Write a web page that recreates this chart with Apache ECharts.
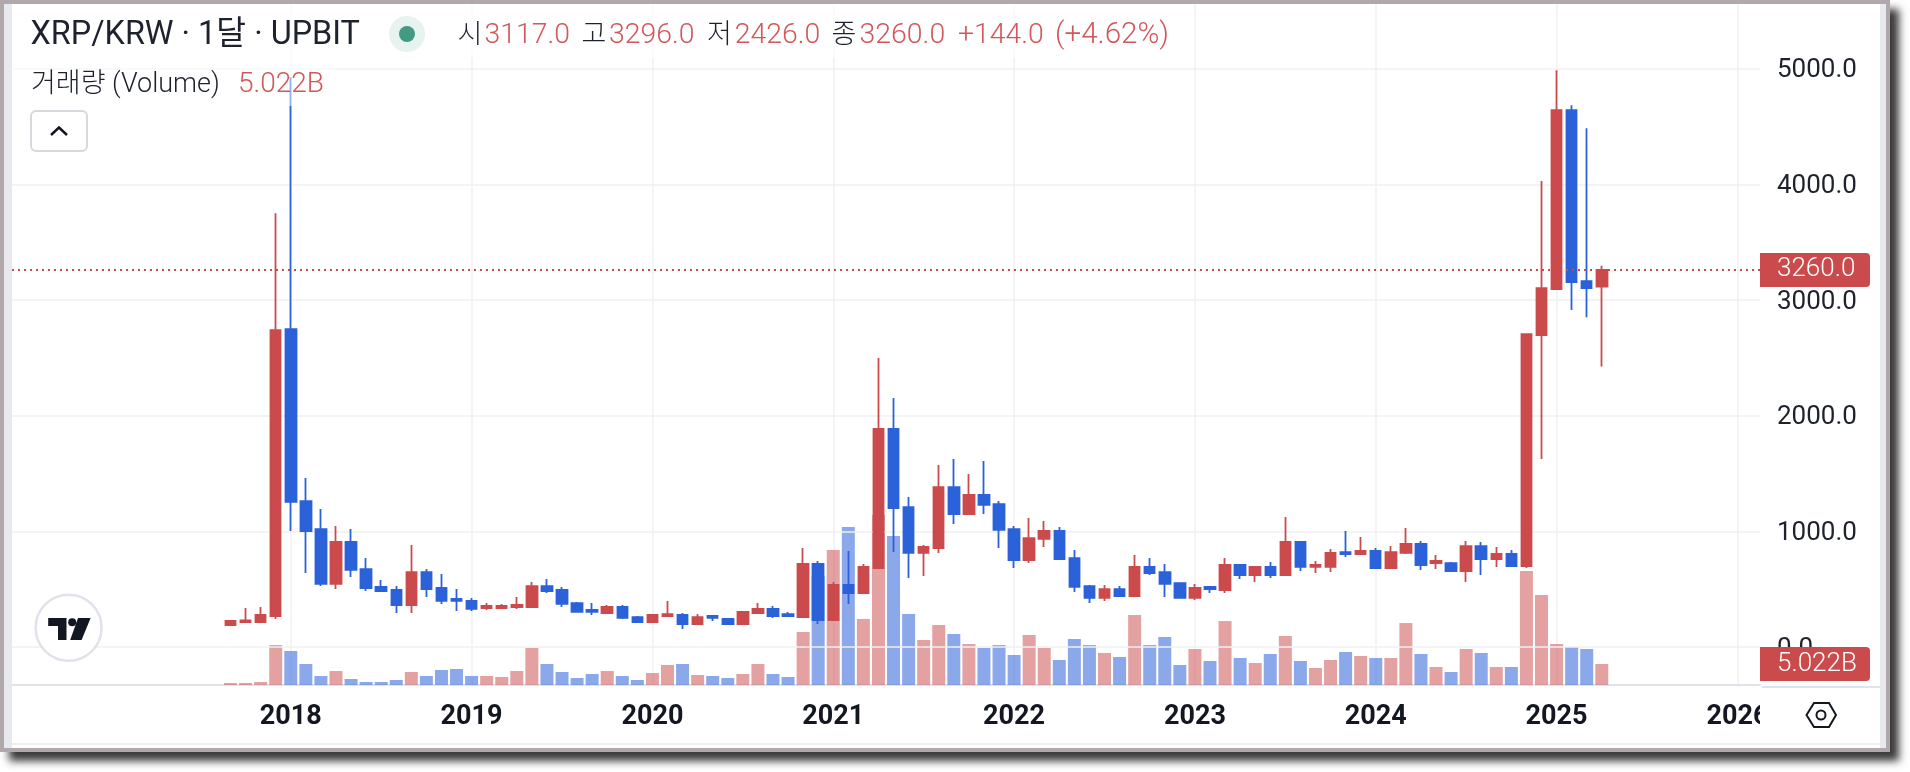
<!DOCTYPE html>
<html><head><meta charset="utf-8">
<style>
html,body{margin:0;padding:0;width:1910px;height:772px;background:#fff;overflow:hidden}
#frame{position:absolute;left:0;top:0;width:1890px;height:752px;box-sizing:border-box;border:4px solid #b0a8ab;background:#fff;box-shadow:9px 9px 8px rgba(25,25,25,.85)}
#frame .l{position:absolute;left:0;top:0;bottom:0;width:8px;background:#e8e9ee}
#frame .r{position:absolute;right:0;top:0;bottom:0;width:6px;background:#e8e9ee}
#frame .b{position:absolute;left:8px;right:6px;bottom:3px;height:2px;background:#eceef2}
#c{position:absolute;left:0;top:0;width:1910px;height:772px}
</style>
<script src="https://cdn.jsdelivr.net/npm/echarts@6/dist/echarts.min.js"></script>
</head><body>
<div id="frame"><div class="l"></div><div class="r"></div><div class="b"></div></div>
<div id="c"></div>
<script>
const categories = ["2016-07","2016-08","2016-09","2016-10","2016-11","2016-12",
"2017-01","2017-02","2017-03","2017-04","2017-05","2017-06","2017-07","2017-08","2017-09","2017-10","2017-11","2017-12",
"2018-01","2018-02","2018-03","2018-04","2018-05","2018-06","2018-07","2018-08","2018-09","2018-10","2018-11","2018-12",
"2019-01","2019-02","2019-03","2019-04","2019-05","2019-06","2019-07","2019-08","2019-09","2019-10","2019-11","2019-12",
"2020-01","2020-02","2020-03","2020-04","2020-05","2020-06","2020-07","2020-08","2020-09","2020-10","2020-11","2020-12",
"2021-01","2021-02","2021-03","2021-04","2021-05","2021-06","2021-07","2021-08","2021-09","2021-10","2021-11","2021-12",
"2022-01","2022-02","2022-03","2022-04","2022-05","2022-06","2022-07","2022-08","2022-09","2022-10","2022-11","2022-12",
"2023-01","2023-02","2023-03","2023-04","2023-05","2023-06","2023-07","2023-08","2023-09","2023-10","2023-11","2023-12",
"2024-01","2024-02","2024-03","2024-04","2024-05","2024-06","2024-07","2024-08","2024-09","2024-10","2024-11","2024-12",
"2025-01","2025-02","2025-03","2025-04","2025-05","2025-06","2025-07","2025-08","2025-09","2025-10","2025-11","2025-12",
"2026-01","2026-02"];
const firstMonth = "2017-09";
const yearTicks = ["2018-01","2019-01","2020-01","2021-01","2022-01","2023-01","2024-01","2025-01","2026-01"];
const opens = [190,216,216,268,2748,1262,1020,545,908,674,519,493,363,648,510,415,398,337,337,346,346,527,493,380,320,294,346,259,
216,268,277,199,268,242,199,294,329,285,259,718,233,536,467,683,1885,1210,813,856,1383,1150,1314,1236,1020,752,934,1003,769,527,424,501,441,692,648,553,424,519,493,709,622,692,
622,908,692,692,821,804,830,683,813,891,726,726,657,873,761,804,700,2697,3094,4641,3163,3116];
const closes = [225,231,277,2740,1254,1003,545,908,666,510,484,363,648,501,398,398,329,355,355,363,527,484,372,303,303,346,251,216,
277,285,199,259,251,199,303,329,268,268,718,233,536,467,692,1885,1202,813,865,1383,1150,1314,1228,1012,752,942,1003,761,519,424,501,441,692,640,545,424,510,501,709,622,692,622,
908,692,709,813,804,830,683,821,891,709,744,657,873,761,804,700,2705,3103,4641,3155,3103,3260];
const lows = [190,216,207,242,1003,640,527,501,605,484,484,294,294,432,372,311,311,320,329,329,337,467,346,303,277,294,242,207,
207,268,156,199,225,199,199,294,251,259,259,199,233,372,467,674,821,597,614,813,1063,1150,1150,856,683,726,865,761,476,380,398,441,441,622,432,424,406,467,467,588,562,597,
614,657,640,648,778,795,683,674,804,666,674,657,562,622,692,692,683,1625,3094,2913,2852,2426];
const highs = [233,337,346,3750,4926,1461,1193,1046,1020,769,579,527,882,674,631,501,424,380,372,432,562,588,519,389,380,363,363,268,
285,398,294,285,277,251,311,380,355,303,856,744,562,830,718,2498,2153,1297,882,1574,1625,1496,1608,1262,1046,1115,1089,1038,839,536,536,527,795,769,718,553,545,527,769,709,700,735,
1124,916,744,847,1003,951,856,873,1029,916,795,735,916,908,865,839,2705,4028,4987,4685,4486,3296];
const volumes = [0.48,0.48,0.72,9.56,8.13,5.02,2.15,3.35,1.43,0.72,0.72,1.2,3.11,2.15,3.59,3.83,2.15,2.15,1.91,3.35,8.85,5.02,3.11,1.67,2.63,3.35,2.15,1.2,
2.87,4.78,5.02,2.39,2.15,1.67,2.63,5.02,2.63,1.91,12.67,26.06,32.28,37.78,15.78,40.65,35.63,16.98,10.76,14.35,12.19,9.8,8.85,9.56,7.17,11.96,8.85,5.98,11.0,9.56,7.65,6.69,16.74,9.56,11.48,4.78,8.61,5.74,15.3,6.46,5.26,7.41,
11.72,5.74,4.06,5.98,7.89,6.93,6.46,6.46,14.82,7.41,4.3,3.11,8.61,7.65,4.3,4.3,27.26,21.5,9.8,9.09,8.61,5.022];
const priceTicks = [0,1000,2000,3000,4000,5000];
const lastClose = 3260;
const lastVolume = 5.022;
const legendPairs = [["시","3117.0",457.5,484.5],["고","3296.0",581.5,609],["저","2426.0",707,734.7],["종","3260.0",831.5,859.6]];

const RED='#cb4a4c', BLUE='#2b62d9', DARK='#131722', TXTRED='#d2575a', GRID='#f0f1f3';
const FONT='Roboto,"Noto Sans CJK KR","Noto Sans",sans-serif';
const start = categories.indexOf(firstMonth);
const candleData = opens.map((o,k)=>[k+start,o,closes[k],lows[k],highs[k]]);
const volumeData = volumes.map((v,k)=>({value:[k+start,v],itemStyle:{color:closes[k]>=opens[k]?'rgba(203,74,76,.52)':'rgba(43,98,217,.55)'}}));
const txt=(text,x,y,size,fill,weight)=>({type:'text',z:50,silent:true,style:{text,x,y,fontFamily:FONT,fontSize:size,fontWeight:weight||300,fill,verticalAlign:'middle',align:'left'}});
const graphics=[
 {type:'rect',z:40,silent:true,shape:{x:12,y:4,width:1163,height:54},style:{fill:'rgba(255,255,255,.6)'}},
 {type:'rect',z:40,silent:true,shape:{x:12,y:58,width:323,height:48},style:{fill:'rgba(255,255,255,.5)'}},
 {type:'rect',z:40,silent:true,shape:{x:1760,y:689,width:118,height:52},style:{fill:'#fff'}},
 {type:'rect',z:41,silent:true,shape:{x:1762,y:686,width:118,height:2},style:{fill:'#e0e3eb'}},
 txt("XRP/KRW · 1달 · UPBIT",30.5,36,32.4,'#1e222d',400),
 {type:'circle',z:50,silent:true,shape:{cx:407,cy:34,r:18},style:{fill:'#e6f3ef'}},
 {type:'circle',z:51,silent:true,shape:{cx:407,cy:34,r:8},style:{fill:'#429a83'}},
 ...legendPairs.flatMap(p=>[txt(p[0],p[2],36,27,'#1e222d'),txt(p[1],p[3],36,28.4,TXTRED)]),
 txt("+144.0",958,36,28.4,TXTRED),
 txt("(+4.62%)",1055,36,29.6,TXTRED),
 txt("거래량 (Volume)",31,85,27,'#1e222d'),
 txt("5.022B",238,85,28,TXTRED),
 {type:'rect',z:50,silent:true,shape:{x:31,y:111,width:56,height:40,r:5},style:{fill:'#fff',stroke:'#d6d9de',lineWidth:2}},
 {type:'polyline',z:51,silent:true,shape:{points:[[51,135],[59,127.5],[67,135]]},style:{stroke:DARK,lineWidth:2.5,fill:null}},
 {type:'circle',z:50,silent:true,shape:{cx:68.6,cy:627.7,r:33},style:{fill:'#fff',stroke:'#e0e3eb',lineWidth:2.5}},
 {type:'polygon',z:51,silent:true,shape:{points:[[48.2,618],[66.5,618],[66.5,640],[58,640],[58,626],[48.2,626]]},style:{fill:DARK}},
 {type:'circle',z:51,silent:true,shape:{cx:72.2,cy:622.3,r:4},style:{fill:DARK}},
 {type:'polygon',z:51,silent:true,shape:{points:[[78,618],[90.6,618],[81.6,640],[70.2,640]]},style:{fill:DARK}},
 {type:'polygon',z:51,silent:true,shape:{points:[[1806.5,715],[1814,703],[1829,703],[1836,715],[1829,727],[1814,727]]},style:{fill:'#fff',stroke:DARK,lineWidth:2}},
 {type:'circle',z:52,silent:true,shape:{cx:1821,cy:715,r:4.5},style:{fill:'#fff',stroke:DARK,lineWidth:2}}
];
const tag=(fmt)=>({show:true,position:'end',distance:0,formatter:fmt,color:'#fff',fontFamily:FONT,fontSize:26,fontWeight:300,
  backgroundColor:RED,borderRadius:[0,4,4,0],padding:[5,12,3,17],width:81,height:26,align:'left',lineHeight:26});
const isYear=(i,v)=>yearTicks.includes(v);
const chart=echarts.init(document.getElementById('c'),null,{renderer:'canvas'});
chart.setOption({
 animation:false,
 tooltip:{show:false},
 grid:[{left:12,width:1748,top:68.7,height:578.3},{left:12,width:1748,top:4,height:683}],
 xAxis:[
  {type:'category',gridIndex:0,data:categories,show:false},
  {type:'category',gridIndex:1,data:categories,z:1,
   axisLine:{lineStyle:{color:'#e0e3eb',width:2}},axisTick:{show:false},
   splitLine:{show:true,alignWithLabel:true,interval:isYear,lineStyle:{color:GRID,width:1.5}},
   axisLabel:{interval:isYear,formatter:v=>v.slice(0,4),margin:17,color:DARK,fontFamily:FONT,fontSize:27,fontWeight:700,hideOverlap:false}}
 ],
 yAxis:[
  {type:'value',gridIndex:0,min:priceTicks[0],max:priceTicks[5],interval:1000,position:'right',z:3,
   axisLine:{show:false},axisTick:{show:false},
   splitLine:{lineStyle:{color:GRID,width:1.5}},
   axisLabel:{formatter:v=>'{a|'+v.toFixed(1)+'}',margin:17,
     rich:{a:{color:'#1e222d',fontFamily:FONT,fontSize:26,fontWeight:400,padding:[4,0,0,0]}}}},
  {type:'value',gridIndex:1,min:-0.48,max:162.9,show:false,splitLine:{show:false}}
 ],
 series:[
  {type:'bar',name:'거래량',xAxisIndex:1,yAxisIndex:1,barWidth:13,z:2,data:volumeData,silent:true,encode:{x:0,y:1},
   markLine:{silent:true,symbol:'none',animation:false,z:30,lineStyle:{color:'transparent',width:0},label:tag('5.022B'),data:[{yAxis:lastVolume}]}},
  {type:'candlestick',name:'XRP/KRW',xAxisIndex:0,yAxisIndex:0,barWidth:11,z:3,silent:true,data:candleData,encode:{x:0,y:[1,2,3,4]},
   itemStyle:{color:RED,color0:BLUE,borderColor:RED,borderColor0:BLUE,borderWidth:1.8},
   markLine:{silent:true,symbol:'none',animation:false,z:30,lineStyle:{color:RED,type:[2,4],width:2},label:tag('3260.0'),data:[{yAxis:lastClose}]}}
 ],
 graphic:{elements:graphics}
});
</script>
</body></html>
